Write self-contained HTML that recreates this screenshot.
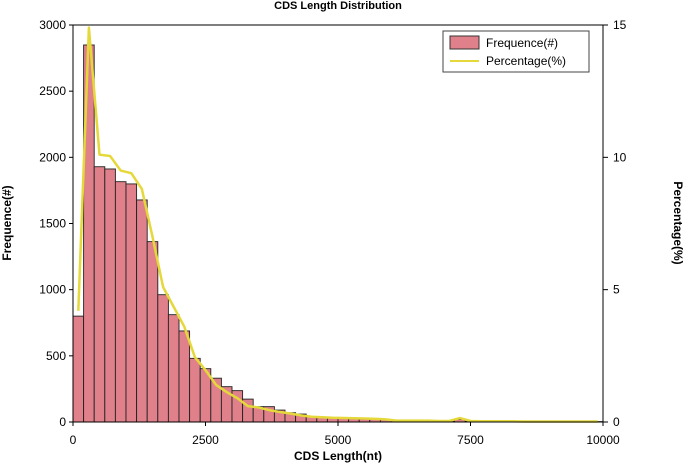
<!DOCTYPE html>
<html><head><meta charset="utf-8"><style>
body{margin:0;background:#fff;}
svg text{font-family:"Liberation Sans",Arial,sans-serif;fill:#000;}
</style></head><body>
<svg id="chart" width="685" height="464" viewBox="0 0 685 464" xmlns="http://www.w3.org/2000/svg">
<text x="338" y="9" text-anchor="middle" font-size="11" font-weight="bold">CDS Length Distribution</text>
<g id="bars"></g>
<polyline id="pctline" fill="none" stroke="#e5d83a" stroke-width="2.5" stroke-linejoin="round"/>
<g id="axes"></g>
<text x="338" y="460" text-anchor="middle" font-size="12" font-weight="bold">CDS Length(nt)</text>
<text transform="translate(11,223) rotate(-90)" text-anchor="middle" font-size="12" font-weight="bold">Frequence(#)</text>
<text transform="translate(674,223) rotate(90)" text-anchor="middle" font-size="12" font-weight="bold">Percentage(%)</text>
<g>
<rect x="443" y="31" width="146" height="41" fill="#fff" stroke="#444" stroke-width="1"/>
<rect x="450" y="36" width="29" height="13" fill="#e0808a" stroke="#333" stroke-width="1"/>
<text x="486" y="47" font-size="12">Frequence(#)</text>
<line x1="450" y1="61" x2="479" y2="61" stroke="#e5d83a" stroke-width="2"/>
<text x="486" y="65" font-size="12">Percentage(%)</text>
</g>
</svg>
<script>
const binStarts=[0,200,400,600,800,1000,1200,1400,1600,1800,2000,2200,2400,2600,2800,3000,3200,3400,3600,3800,4000,4200,4400,4600,4800,5000,5200,5400,5600,5800,6000,6200,6400,6600,6800,7000,7200,7400,7600,7800,8000,8200,8400,8600,8800,9000,9200,9400,9600,9800];
const freq=[800,2849,1929,1912,1816,1799,1678,1363,962,811,688,481,403,331,267,237,173,116,116,90,70,60,40,35,30,28,25,22,20,18,8,8,7,7,6,6,20,6,5,5,5,4,4,4,3,3,3,3,3,3];
const pct=[4.2,14.9,10.1,10.05,9.5,9.4,8.8,7.0,5.1,4.35,3.6,2.45,1.96,1.4,1.13,0.9,0.6,0.55,0.45,0.38,0.32,0.25,0.2,0.18,0.16,0.15,0.14,0.13,0.12,0.1,0.05,0.05,0.05,0.05,0.04,0.04,0.15,0.04,0.03,0.03,0.03,0.03,0.02,0.02,0.02,0.02,0.02,0.02,0.02,0.02];
const binWidth=200;
const xTicks=[0,2500,5000,7500,10000];
const yTicks=[0,500,1000,1500,2000,2500,3000];
const y2Ticks=[0,5,10,15];
const NS="http://www.w3.org/2000/svg";
const X0=73,X1=603,Y0=422,Y1=25;
const sx=v=>X0+(v/10000)*(X1-X0);
const sy=v=>Y0-(v/3000)*(Y0-Y1);
const sy2=v=>Y0-(v/15)*(Y0-Y1);
function mk(t,a,p){const e=document.createElementNS(NS,t);for(const k in a)e.setAttribute(k,a[k]);p.appendChild(e);return e;}
const bars=document.getElementById('bars');
binStarts.forEach((b,i)=>{
 const r=mk('rect',{x:sx(b),y:sy(freq[i]),width:sx(b+binWidth)-sx(b),height:Y0-sy(freq[i]),fill:'#e0808a',stroke:'#222','stroke-width':0.9},bars);
 
 
});
document.getElementById('pctline').setAttribute('points',binStarts.map((b,i)=>sx(b+binWidth/2)+','+sy2(pct[i])).join(' '));
const ax=document.getElementById('axes');
mk('line',{x1:X0,y1:Y1,x2:X1,y2:Y1,stroke:'#555','stroke-width':1.5},ax);
mk('line',{x1:X0,y1:Y1,x2:X0,y2:Y0,stroke:'#000','stroke-width':1},ax);
mk('line',{x1:X1,y1:Y1,x2:X1,y2:Y0,stroke:'#000','stroke-width':1},ax);
mk('line',{x1:X0,y1:Y0,x2:X1,y2:Y0,stroke:'#000','stroke-width':1},ax);
xTicks.forEach(v=>{
 mk('line',{x1:sx(v),y1:Y0,x2:sx(v),y2:Y0+4,stroke:'#000'},ax);
 const t=mk('text',{x:sx(v),y:Y0+22,'text-anchor':'middle','font-size':12},ax);t.textContent=v;
 
 
});
yTicks.forEach(v=>{
 mk('line',{x1:X0-4,y1:sy(v),x2:X0,y2:sy(v),stroke:'#000'},ax);
 const t=mk('text',{x:X0-7,y:sy(v)+4,'text-anchor':'end','font-size':12},ax);t.textContent=v;
 
 
});
y2Ticks.forEach(v=>{
 mk('line',{x1:X1,y1:sy2(v),x2:X1+5,y2:sy2(v),stroke:'#000'},ax);
 const t=mk('text',{x:X1+10,y:sy2(v)+4,'text-anchor':'start','font-size':12},ax);t.textContent=v;
 
 
});
</script>
</body></html>
